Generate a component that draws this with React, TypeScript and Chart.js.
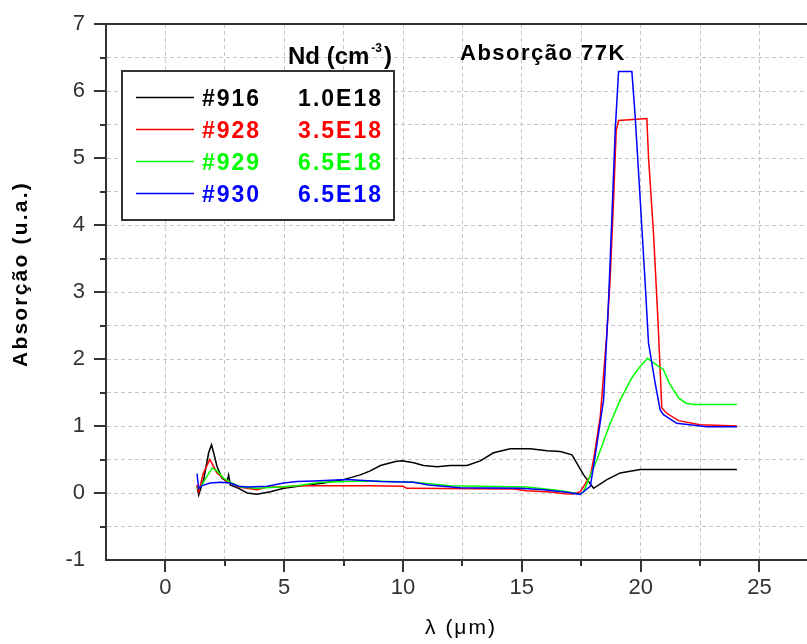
import React, { useEffect, useRef } from 'react';
import { Chart, registerables } from 'chart.js';

Chart.register(...registerables);

// ---------- data (λ in µm, absorption in a.u.) ----------
const s916X = [1.33, 1.40, 1.61, 1.82, 1.94, 2.03, 2.17, 2.38, 2.59, 2.66, 2.73, 3.08, 3.44, 3.86, 4.42, 4.98, 5.82, 6.66, 7.5, 8.2, 8.62, 9.05, 9.68, 9.96, 10.45, 10.86, 11.43, 11.99, 12.69, 13.25, 13.81, 14.51, 15.36, 16.06, 16.62, 17.11, 17.6, 18.02, 18.58, 19.14, 19.98, 24.05];
const s916Y = [0.10, -0.03, 0.20, 0.60, 0.72, 0.60, 0.40, 0.22, 0.17, 0.27, 0.12, 0.07, 0.00, -0.02, 0.02, 0.07, 0.11, 0.15, 0.20, 0.27, 0.33, 0.41, 0.47, 0.48, 0.45, 0.41, 0.39, 0.41, 0.41, 0.48, 0.60, 0.66, 0.66, 0.63, 0.62, 0.57, 0.27, 0.07, 0.20, 0.30, 0.35, 0.35];

const s928X = [1.33, 1.40, 1.60, 1.87, 2.17, 2.60, 2.82, 3.08, 3.86, 4.28, 5.0, 5.54, 8.62, 10.0, 10.16, 14.65, 15.2, 16.2, 16.8, 17.17, 17.46, 17.88, 18.02, 18.3, 18.58, 18.72, 18.86, 18.97, 19.07, 20.26, 20.33, 20.54, 20.72, 20.82, 20.89, 21.1, 21.6, 22.5, 24.05];
const s928Y = [0.12, 0.02, 0.30, 0.50, 0.30, 0.17, 0.14, 0.09, 0.05, 0.09, 0.09, 0.11, 0.11, 0.10, 0.07, 0.06, 0.035, 0.015, -0.01, -0.015, 0.02, 0.25, 0.50, 1.14, 2.39, 3.23, 4.38, 5.40, 5.56, 5.59, 5.02, 3.88, 2.64, 1.84, 1.27, 1.19, 1.08, 1.02, 1.00];

const s929X = [1.33, 1.50, 1.96, 2.17, 2.45, 2.73, 3.16, 3.86, 4.84, 5.54, 6.52, 7.63, 8.76, 10.45, 11.99, 15.21, 16.48, 17.04, 17.45, 17.6, 18.16, 18.72, 19.14, 19.63, 19.98, 20.29, 20.47, 20.96, 21.2, 21.6, 21.9, 22.23, 24.05];
const s929Y = [0.07, 0.10, 0.37, 0.33, 0.22, 0.16, 0.09, 0.07, 0.09, 0.11, 0.16, 0.17, 0.18, 0.16, 0.11, 0.09, 0.04, 0.01, -0.02, 0.02, 0.50, 1.04, 1.39, 1.72, 1.89, 2.01, 1.96, 1.84, 1.64, 1.42, 1.34, 1.32, 1.32];

const s930X = [1.33, 1.40, 1.54, 1.89, 2.31, 2.73, 3.08, 3.44, 4.28, 4.98, 5.54, 6.24, 7.63, 9.05, 10.45, 11.08, 12.41, 14.93, 15.91, 16.89, 17.45, 17.52, 17.88, 18.02, 18.44, 18.65, 18.79, 18.93, 19.07, 19.63, 19.77, 19.98, 20.19, 20.33, 20.61, 20.82, 20.96, 21.52, 22.78, 24.05];
const s930Y = [0.29, 0.07, 0.11, 0.15, 0.16, 0.15, 0.10, 0.09, 0.10, 0.15, 0.17, 0.18, 0.20, 0.17, 0.16, 0.12, 0.08, 0.07, 0.05, 0.01, -0.02, 0.00, 0.10, 0.40, 1.39, 2.88, 4.13, 5.42, 6.29, 6.29, 5.62, 4.38, 3.13, 2.24, 1.64, 1.24, 1.17, 1.04, 0.99, 0.99];

const seriesNames = ['#916', '#928', '#929', '#930'];
const ndValues = ['1.0E18', '3.5E18', '6.5E18', '6.5E18'];
const seriesColors = ['#000000', '#ff0000', '#00ff00', '#0000ff'];
const seriesX = [s916X, s928X, s929X, s930X];
const seriesY = [s916Y, s928Y, s929Y, s930Y];

const xGridTicks = [-2.5, 0, 2.5, 5, 7.5, 10, 12.5, 15, 17.5, 20, 22.5, 25];
const xMajorTicks = [0, 5, 10, 15, 20, 25];
const yGridTicks = [-1, -0.5, 0, 0.5, 1, 1.5, 2, 2.5, 3, 3.5, 4, 4.5, 5, 5.5, 6, 6.5, 7];
const yMajorTicks = [-1, 0, 1, 2, 3, 4, 5, 6, 7];

const X_MIN = -2.5;
const X_MAX = 27;
const Y_MIN = -1;
const Y_MAX = 7;

const xTitle = 'λ (μm)';
const yTitle = 'Absorção (u.a.)';
const plotTitle = 'Absorção 77K';
const ndTitle = 'Nd (cm';
const ndSup = '-3';

const W = 807;
const H = 644;
const AXIS = '#333333';
const TICK_FONT = "'Liberation Sans Narrow', 'Liberation Sans', Arial, sans-serif";
const TEXT_FONT = "'Liberation Sans', Arial, sans-serif";

const decorPlugin = {
  id: 'decor',
  afterDraw(chart: any) {
    const ctx: CanvasRenderingContext2D = chart.ctx;
    const { left, top, right, bottom } = chart.chartArea;
    const xs = chart.scales.x;
    const ys = chart.scales.y;
    ctx.save();

    // top frame line
    ctx.strokeStyle = AXIS;
    ctx.lineWidth = 2;
    ctx.setLineDash([]);
    ctx.beginPath();
    ctx.moveTo(left - 1, top);
    ctx.lineTo(right, top);
    ctx.stroke();

    // tick marks (major long, minor short), outside
    ctx.lineWidth = 2;
    for (const v of xGridTicks) {
      if (v <= X_MIN) continue;
      const px = Math.round(xs.getPixelForValue(v));
      const len = xMajorTicks.includes(v) ? 12 : 6;
      ctx.beginPath();
      ctx.moveTo(px, bottom);
      ctx.lineTo(px, bottom + len);
      ctx.stroke();
    }
    for (const v of yGridTicks) {
      if (v <= Y_MIN) continue;
      const py = Math.round(ys.getPixelForValue(v));
      const len = yMajorTicks.includes(v) ? 12 : 6;
      ctx.beginPath();
      ctx.moveTo(left, py);
      ctx.lineTo(left - len, py);
      ctx.stroke();
    }

    const anyCtx = ctx as any;

    // y-axis title
    ctx.save();
    ctx.translate(21, 274);
    ctx.rotate(-Math.PI / 2);
    ctx.fillStyle = '#000';
    ctx.font = `bold 21px ${TEXT_FONT}`;
    anyCtx.letterSpacing = '2.2px';
    ctx.textAlign = 'center';
    ctx.textBaseline = 'middle';
    ctx.fillText(yTitle, 0, 0);
    ctx.restore();

    // x-axis title
    ctx.save();
    ctx.fillStyle = '#000';
    ctx.font = `21px ${TEXT_FONT}`;
    anyCtx.letterSpacing = '2px';
    ctx.textAlign = 'center';
    ctx.textBaseline = 'alphabetic';
    ctx.fillText(xTitle, 461, 634);
    ctx.restore();

    // plot title
    ctx.save();
    ctx.fillStyle = '#000';
    ctx.font = `bold 22px ${TEXT_FONT}`;
    anyCtx.letterSpacing = '1.5px';
    ctx.textAlign = 'left';
    ctx.textBaseline = 'alphabetic';
    ctx.fillText(plotTitle, left + 354, top + 35.5);
    ctx.restore();

    // Nd (cm-3)
    ctx.save();
    ctx.fillStyle = '#000';
    ctx.textAlign = 'left';
    ctx.textBaseline = 'alphabetic';
    ctx.font = `bold 24px ${TEXT_FONT}`;
    const ndX = left + 182;
    const ndY = top + 40;
    ctx.fillText(ndTitle, ndX, ndY);
    const w1 = ctx.measureText(ndTitle).width;
    ctx.font = `bold 12px ${TEXT_FONT}`;
    ctx.fillText(ndSup, ndX + w1 + 2, ndY - 12);
    const w2 = ctx.measureText(ndSup).width;
    ctx.font = `bold 24px ${TEXT_FONT}`;
    ctx.fillText(')', ndX + w1 + w2 + 4, ndY);
    ctx.restore();

    // legend box
    const bx = left + 16;
    const by = top + 47;
    const bw = 272;
    const bh = 149;
    ctx.save();
    ctx.fillStyle = '#ffffff';
    ctx.fillRect(bx, by, bw, bh);
    ctx.strokeStyle = AXIS;
    ctx.lineWidth = 2;
    ctx.strokeRect(bx, by, bw, bh);
    ctx.font = `bold 23px ${TEXT_FONT}`;
    anyCtx.letterSpacing = '2px';
    ctx.textBaseline = 'alphabetic';
    ctx.textAlign = 'left';
    for (let i = 0; i < seriesNames.length; i++) {
      const ry = by + 26.5 + i * 32;
      ctx.strokeStyle = seriesColors[i];
      ctx.lineWidth = 1.5;
      ctx.beginPath();
      ctx.moveTo(bx + 14, ry);
      ctx.lineTo(bx + 72, ry);
      ctx.stroke();
      ctx.fillStyle = seriesColors[i];
      ctx.fillText(seriesNames[i], bx + 80, ry + 8.5);
      const vw = ctx.measureText(ndValues[i]).width - 2;
      ctx.fillText(ndValues[i], bx + 259 - vw, ry + 8.5);
    }
    ctx.restore();

    ctx.restore();
  },
};

export default function App() {
  const canvasRef = useRef<HTMLCanvasElement | null>(null);

  useEffect(() => {
    const canvas = canvasRef.current;
    if (!canvas) return;

    const datasets = seriesNames.map((name, i) => ({
      label: name,
      data: seriesX[i].map((x, j) => ({ x, y: seriesY[i][j] })),
      borderColor: seriesColors[i],
      backgroundColor: seriesColors[i],
      borderWidth: 1.5,
      pointRadius: 0,
      tension: 0,
      fill: false,
      order: 4 - i,
    }));

    const chart = new Chart(canvas, {
      type: 'line',
      data: { datasets },
      options: {
        animation: false,
        responsive: false,
        devicePixelRatio: 1,
        layout: { padding: { top: 24, right: 0, left: 0, bottom: 0 } },
        plugins: {
          legend: { display: false },
          title: { display: false },
          tooltip: { enabled: false },
        },
        scales: {
          x: {
            type: 'linear',
            min: X_MIN,
            max: X_MAX,
            afterBuildTicks: (scale: any) => {
              scale.ticks = xGridTicks.map((v) => ({ value: v }));
            },
            afterFit: (scale: any) => {
              scale.height = 84;
              scale.paddingLeft = 0;
              scale.paddingRight = 0;
            },
            grid: { color: '#c6c6c6', lineWidth: 1, drawTicks: false },
            border: { color: AXIS, width: 2, dash: [4, 3] },
            ticks: {
              autoSkip: false,
              maxRotation: 0,
              minRotation: 0,
              padding: 15,
              color: AXIS,
              font: { family: TICK_FONT, size: 22 },
              callback: (v: any) => (xMajorTicks.includes(Number(v)) ? String(v) : ''),
            },
          },
          y: {
            type: 'linear',
            min: Y_MIN,
            max: Y_MAX,
            afterBuildTicks: (scale: any) => {
              scale.ticks = yGridTicks.map((v) => ({ value: v }));
            },
            afterFit: (scale: any) => {
              scale.width = 106;
              scale.paddingTop = 0;
              scale.paddingBottom = 0;
            },
            grid: { color: '#c6c6c6', lineWidth: 1, drawTicks: false },
            border: { color: AXIS, width: 2, dash: [4, 3] },
            ticks: {
              autoSkip: false,
              padding: 21,
              color: AXIS,
              font: { family: TICK_FONT, size: 22 },
              callback: (v: any) => (yMajorTicks.includes(Number(v)) ? String(v) : ''),
            },
          },
        },
      },
      plugins: [decorPlugin],
    } as any);

    return () => {
      chart.destroy();
    };
  }, []);

  return (
    <div style={{ position: 'absolute', left: 0, top: 0, width: W, height: H, background: '#fff' }}>
      <canvas ref={canvasRef} width={W} height={H} style={{ display: 'block', width: W, height: H }} />
    </div>
  );
}
